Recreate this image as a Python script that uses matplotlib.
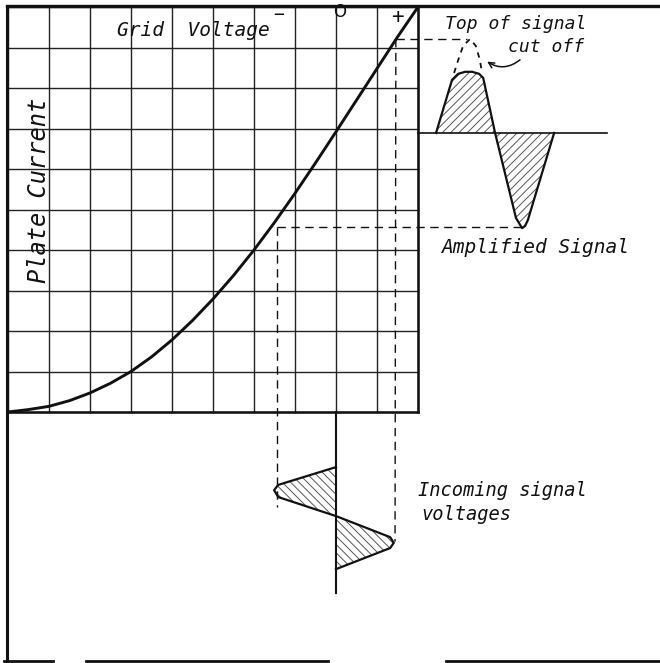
import matplotlib.pyplot as plt
import numpy as np

plt.rcParams['hatch.linewidth'] = 0.7
plt.rcParams['hatch.color'] = '#444444'

# sheet units: one grid square = 1 volt across, 1 unit of plate current up
grid_volts = [-8, -7, -6, -5, -4, -3, -2, -1, 0, 1, 2]
current_lines = [0, 1, 2, 3, 4, 5, 6, 7, 8, 9, 10]

# tube characteristic every half square
curve_volts = [-8.0, -7.5, -7.0, -6.5, -6.0, -5.5, -5.0, -4.5, -4.0, -3.5, -3.0,
               -2.5, -2.0, -1.5, -1.0, -0.5, 0.0, 0.5, 1.0, 1.5, 2.0]
curve_current = [0.0, 0.06, 0.14, 0.28, 0.47, 0.71, 1.00, 1.36, 1.78, 2.26, 2.79,
                 3.37, 4.00, 4.68, 5.40, 6.15, 6.92, 7.70, 8.48, 9.26, 10.0]

# amplified signal (to the right of the sheet), top flattened
amp_axis = 6.89
amp_t = [2.44, 2.83, 2.98, 3.15, 3.32, 3.49, 3.59, 3.88, 4.39, 4.49, 4.54, 4.61, 4.68, 5.32]
amp_i = [6.89, 8.20, 8.35, 8.40, 8.40, 8.35, 8.25, 6.89, 4.79, 4.62, 4.54, 4.59, 4.74, 6.89]

# the part of the peak that got cut off (dashed)
cut_t = [2.88, 2.98, 3.10, 3.27, 3.41, 3.51, 3.56]
cut_i = [8.37, 8.69, 9.04, 9.21, 9.04, 8.69, 8.37]

# incoming grid signal (below the sheet, time running down)
inc_v = [0, -1.41, -1.51, -1.41, 0, 1.32, 1.41, 1.32, 0]
inc_t = [-1.36, -1.80, -1.93, -2.10, -2.57, -3.09, -3.23, -3.36, -3.88]

ink = '#111111'
hand = dict(family='DejaVu Sans Mono', style='italic', color=ink)

fig = plt.figure(figsize=(6.6, 6.63), dpi=100)
ax = fig.add_axes([0, 0, 1, 1])
ax.set_xlim(-336 / 41, 324 / 41)
ax.set_ylim(-251 / 40.5, 412 / 40.5)
ax.axis('off')

# graph sheet
for v in grid_volts:
    ax.plot([v, v], [0, 10], color='#222222', lw=1.0)
for c in current_lines:
    ax.plot([-8, 2], [c, c], color='#222222', lw=1.0)
ax.plot([2, 2], [0, 10], color=ink, lw=1.8)
ax.plot([-8, 2], [0, 0], color=ink, lw=1.8)

# outer frame
ax.plot([-8.02, 7.95], [10.02, 10.02], color=ink, lw=2.4)
ax.plot([-8.02, -8.02], [-6.15, 10.02], color=ink, lw=2.2)
for x0, x1 in [(-8.1, -6.9), (-6.1, -0.2), (2.68, 7.95)]:
    ax.plot([x0, x1], [-6.15, -6.15], color=ink, lw=2.0)

# characteristic curve
ax.plot(curve_volts, curve_current, color=ink, lw=2.1, solid_capstyle='round',
        solid_joinstyle='round')

# projection lines
ax.plot([1.46, 3.2], [9.21, 9.21], color=ink, lw=1.0, dashes=(6, 4))
ax.plot([1.46, 1.44], [9.21, -3.2], color=ink, lw=1.0, dashes=(6, 4))
ax.plot([-1.44, 4.54], [4.57, 4.57], color=ink, lw=1.0, dashes=(6, 4))
ax.plot([-1.44, -1.44], [4.57, -2.35], color=ink, lw=1.0, dashes=(6, 4))

# amplified signal
ax.plot([2, 6.61], [amp_axis, amp_axis], color=ink, lw=1.2)
ax.fill(amp_t[:8], amp_i[:8], facecolor='none', edgecolor='#555555', hatch='////', lw=0)
ax.fill(amp_t[7:], amp_i[7:], facecolor='none', edgecolor='#555555', hatch='////', lw=0)
ax.plot(amp_t, amp_i, color=ink, lw=1.6, solid_joinstyle='round')
ax.plot(cut_t, cut_i, color=ink, lw=1.3, dashes=(3, 3))

# incoming signal
ax.plot([0, 0], [0, -4.47], color=ink, lw=1.5)
ax.fill(inc_v[:5], inc_t[:5], facecolor='none', edgecolor='#555555', hatch='\\\\\\\\', lw=0)
ax.fill(inc_v[4:], inc_t[4:], facecolor='none', edgecolor='#555555', hatch='\\\\\\\\', lw=0)
ax.plot(inc_v, inc_t, color=ink, lw=1.6, solid_joinstyle='round')

# lettering
ax.text(-3.48, 9.43, 'Grid  Voltage', fontsize=14, ha='center', va='center', **hand)
ax.text(-1.41, 9.80, '\u2212', fontsize=13, ha='center', va='center', **hand)
ax.text(0.10, 9.88, 'O', fontsize=12, ha='center', va='center',
        family='DejaVu Sans', color=ink)
ax.text(1.49, 9.75, '+', fontsize=15, ha='center', va='center', **hand)
ax.text(-7.24, 5.46, 'Plate Current', fontsize=17, rotation=90, ha='center', va='center', **hand)
ax.text(4.39, 9.58, 'Top of signal', fontsize=13, ha='center', va='center', **hand)
ax.text(5.12, 9.01, 'cut off', fontsize=13, ha='center', va='center', **hand)
ax.text(4.85, 4.05, 'Amplified Signal', fontsize=14, ha='center', va='center', **hand)
ax.text(4.07, -1.95, 'Incoming signal', fontsize=13.5, ha='center', va='center', **hand)
ax.text(3.17, -2.54, 'voltages', fontsize=13.5, ha='center', va='center', **hand)

ax.annotate('', xy=(3.63, 8.69), xytext=(4.54, 8.74),
            arrowprops=dict(arrowstyle='->', color=ink, lw=1.1,
                            connectionstyle='arc3,rad=-0.4'))

fig.savefig('out.png', dpi=100, facecolor='white')
